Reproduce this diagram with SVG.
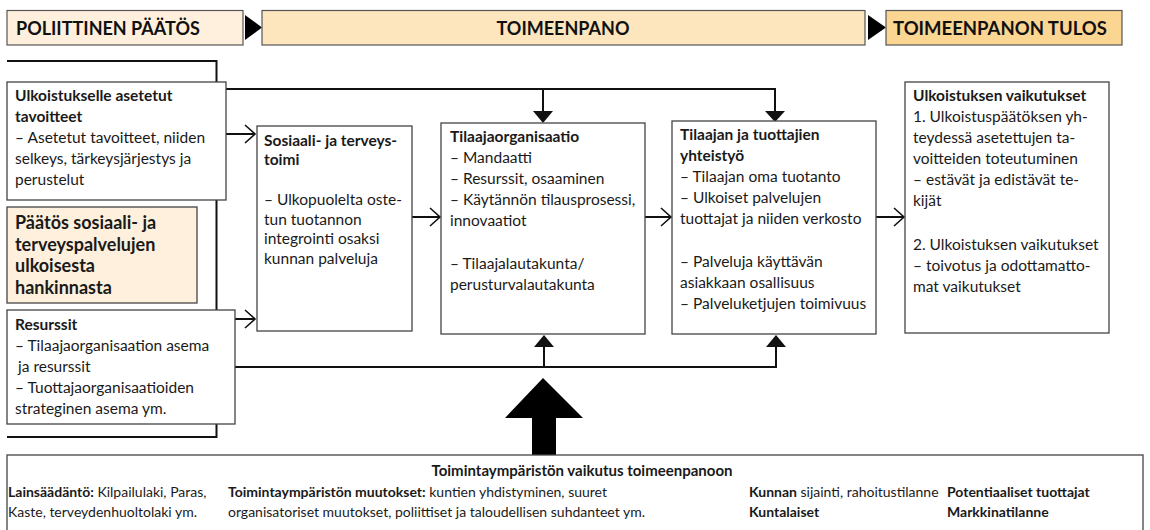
<svg xmlns="http://www.w3.org/2000/svg" width="1150" height="530" viewBox="0 0 1150 530">
<style>
.hd{stroke:#555;stroke-width:1.2}
.bx{fill:#fff;stroke:#444;stroke-width:1.3}
.t{font-family:Lato,"Open Sans","Liberation Sans",sans-serif;font-size:15.5px;fill:#1a1a1a}
.s{font-size:14px}
.st{font-size:15px}
.b{font-weight:bold}
.h{font-family:Lato,"Open Sans","Liberation Sans",sans-serif;font-size:18px;font-weight:bold;fill:#111}
.ln{fill:none;stroke:#111;stroke-width:2}
.ch{fill:none;stroke:#111;stroke-width:1.6}
.ah{fill:#111}
</style>
<g id="header">
<rect class="hd" x="7" y="10.5" width="236" height="34.5" fill="#fef0dc"/>
<polygon points="245,15 262,27.5 245,40" fill="#000"/>
<rect class="hd" x="262" y="10.5" width="603" height="34.5" fill="#fde5bd"/>
<polygon points="868,15 886,27.5 868,40" fill="#000"/>
<rect class="hd" x="886" y="10.5" width="236" height="34.5" fill="#fbd592"/>
<text class="h" x="16" y="35">POLIITTINEN PÄÄTÖS</text>
<text class="h" x="563" y="35" text-anchor="middle">TOIMEENPANO</text>
<text class="h" x="893" y="35" style="font-size:18.5px">TOIMEENPANON TULOS</text>
</g>
<g id="connectors">
<path class="ln" d="M7,61 H216.5 V437 H7"/>
<path class="ln" d="M226,89 H775 V112 M543,89 V112"/>
<polygon class="ah" points="533,111 553,111 543,123"/>
<polygon class="ah" points="765,111 785,111 775,122"/>
<path class="ln" d="M235,367 H776 V346 M544,367 V346"/>
<polygon class="ah" points="534,347 554,347 544,335"/>
<polygon class="ah" points="766,347 786,347 776,335"/>
<path class="ln" d="M226,134 H255 M235,319 H255 M412,217 H440 M645,217 H671 M876,217 H904"/>
<path class="ch" d="M245,125 L255,134 L245,143 M245,310 L255,319 L245,328 M430,208 L440,217 L430,226 M661,208 L671,217 L661,226 M894,208 L904,217 L894,226"/>
<polygon points="543,378 583,418 556,418 556,455 532,455 532,418 505,418" fill="#000"/>
</g>
<g id="ulkoistukselle">
<rect class="bx" x="7" y="82" width="219" height="118"/>
<text class="t"><tspan class="b" x="15" y="101">Ulkoistukselle asetetut</tspan><tspan class="b" x="15" y="122">tavoitteet</tspan><tspan x="15" y="143">– Asetetut tavoitteet, niiden</tspan><tspan x="15" y="164">selkeys, tärkeysjärjestys ja</tspan><tspan x="15" y="185">perustelut</tspan></text>
</g>
<g id="paatos">
<rect x="7" y="207" width="190" height="96" fill="#fef0dc" stroke="#444" stroke-width="1.3"/>
<text class="t b" style="font-size:18px"><tspan x="15" y="229">Päätös sosiaali- ja</tspan><tspan x="15" y="251">terveyspalvelujen</tspan><tspan x="15" y="272">ulkoisesta</tspan><tspan x="15" y="294">hankinnasta</tspan></text>
</g>
<g id="resurssit">
<rect class="bx" x="7" y="310" width="228" height="114"/>
<text class="t"><tspan class="b" x="15" y="330">Resurssit</tspan><tspan x="15" y="351">– Tilaajaorganisaation asema</tspan><tspan x="18" y="372">ja resurssit</tspan><tspan x="15" y="393">– Tuottajaorganisaatioiden</tspan><tspan x="15" y="414">strateginen asema ym.</tspan></text>
</g>
<g id="sosiaali">
<rect class="bx" x="257" y="126" width="155" height="205"/>
<text class="t"><tspan class="b" x="264" y="146">Sosiaali- ja terveys-</tspan><tspan class="b" x="264" y="165">toimi</tspan><tspan x="264" y="205">– Ulkopuolelta oste-</tspan><tspan x="264" y="224.5">tun tuotannon</tspan><tspan x="264" y="244">integrointi osaksi</tspan><tspan x="264" y="263.5">kunnan palveluja</tspan></text>
</g>
<g id="tilaajaorganisaatio">
<rect class="bx" x="441" y="123" width="204" height="211"/>
<text class="t"><tspan class="b" x="450" y="142">Tilaajaorganisaatio</tspan><tspan x="450" y="163">– Mandaatti</tspan><tspan x="450" y="184">– Resurssit, osaaminen</tspan><tspan x="450" y="205">– Käytännön tilausprosessi,</tspan><tspan x="450" y="226">innovaatiot</tspan><tspan x="450" y="269">– Tilaajalautakunta/</tspan><tspan x="450" y="290">perusturvalautakunta</tspan></text>
</g>
<g id="yhteistyo">
<rect class="bx" x="672" y="121" width="204" height="213"/>
<text class="t"><tspan class="b" x="680" y="140">Tilaajan ja tuottajien</tspan><tspan class="b" x="680" y="161">yhteistyö</tspan><tspan x="680" y="182">– Tilaajan oma tuotanto</tspan><tspan x="680" y="203">– Ulkoiset palvelujen</tspan><tspan x="680" y="224">tuottajat ja niiden verkosto</tspan><tspan x="680" y="267">– Palveluja käyttävän</tspan><tspan x="680" y="288">asiakkaan osallisuus</tspan><tspan x="680" y="309">– Palveluketjujen toimivuus</tspan></text>
</g>
<g id="vaikutukset">
<rect class="bx" x="905" y="82" width="204" height="251"/>
<text class="t"><tspan class="b" x="913" y="101">Ulkoistuksen vaikutukset</tspan><tspan x="913" y="122">1. Ulkoistuspäätöksen yh-</tspan><tspan x="913" y="143">teydessä asetettujen ta-</tspan><tspan x="913" y="164">voitteiden toteutuminen</tspan><tspan x="913" y="185">– estävät ja edistävät te-</tspan><tspan x="913" y="206">kijät</tspan><tspan x="913" y="250">2. Ulkoistuksen vaikutukset</tspan><tspan x="913" y="271">– toivotus ja odottamatto-</tspan><tspan x="913" y="292">mat vaikutukset</tspan></text>
</g>
<g id="toimintaymparisto">
<rect class="bx" x="7" y="455" width="1136" height="80" stroke="#666"/>
<text class="t st b" x="582" y="476" text-anchor="middle">Toimintaympäristön vaikutus toimeenpanoon</text>
<text class="t s" x="8" y="497"><tspan class="b">Lainsäädäntö:</tspan> Kilpailulaki, Paras,</text>
<text class="t s" x="8" y="517">Kaste, terveydenhuoltolaki ym.</text>
<text class="t s" x="228" y="497"><tspan class="b">Toimintaympäristön muutokset:</tspan> kuntien yhdistyminen, suuret</text>
<text class="t s" x="228" y="517">organisatoriset muutokset, poliittiset ja taloudellisen suhdanteet ym.</text>
<text class="t s" x="749" y="497"><tspan class="b">Kunnan</tspan> sijainti, rahoitustilanne</text>
<text class="t s b" x="749" y="517">Kuntalaiset</text>
<text class="t s b" x="947" y="497">Potentiaaliset tuottajat</text>
<text class="t s b" x="947" y="517">Markkinatilanne</text>
</g>
</svg>
